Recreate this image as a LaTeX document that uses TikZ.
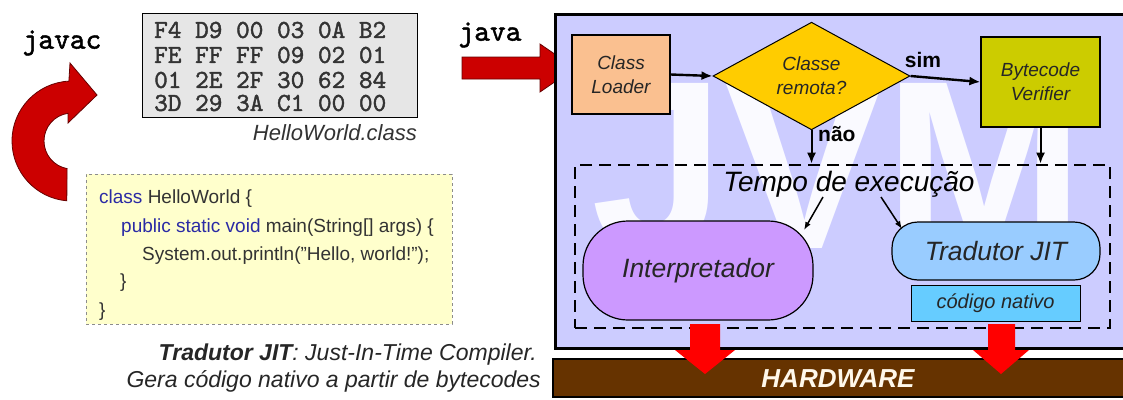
\documentclass[tikz,border=0pt]{standalone}
\usepackage{fontspec}
\setmainfont{Liberation Sans}
\newfontfamily\hexfont{lmmono10-regular.otf}[FakeBold=1.6]
\usetikzlibrary{shapes.geometric,arrows.meta}
\definecolor{jvmbg}{RGB}{204,204,255}
\definecolor{loaderc}{RGB}{250,192,144}
\definecolor{diamc}{RGB}{255,204,0}
\definecolor{verc}{RGB}{204,204,0}
\definecolor{interc}{RGB}{204,153,255}
\definecolor{jitc}{RGB}{153,204,255}
\definecolor{natc}{RGB}{102,204,255}
\definecolor{hwc}{RGB}{102,51,0}
\definecolor{darkred}{RGB}{204,0,0}
\definecolor{hexc}{RGB}{230,230,230}
\definecolor{codebg}{RGB}{255,255,204}
\definecolor{kwc}{RGB}{42,42,165}
\definecolor{codetxt}{RGB}{51,51,51}
\newcommand\myfs[2]{\fontsize{#1}{#2}\selectfont}
\newcommand\kw[1]{\textcolor{kwc}{#1}}
\begin{document}
\begin{tikzpicture}[x=1pt,y=-1pt,
  every node/.style={inner sep=0pt},
  box/.style={draw=black, line width=1.2pt, align=center, font=\myfs{19}{24}\itshape, text=black!85},
  flow/.style={-{Latex[length=11pt,width=9pt]}, line width=2.4pt},
  thin arrow/.style={-{Latex[length=8pt,width=6pt]}, line width=1.5pt},
  code/.style={font=\myfs{19}{24}, text=codetxt, anchor=west},
  hexrow/.style={font=\myfs{26}{24}\hexfont, text=black!80, anchor=west},
  redarrow/.style={fill=darkred, draw=black!60!red, line width=0.8pt}
]
\useasboundingbox (0,0) rectangle (1123,399);
\clip (0,0) rectangle (1123,399);
\fill[white] (0,0) rectangle (1123,399);

% ---------- left part ----------
\node[font=\myfs{30}{30}\hexfont] (javac) at (62,43) {javac};
\node[draw=black, line width=1pt, fill=hexc, minimum width=275pt, minimum height=104pt] (hexbox) at (279.5,65) {};
\node[hexrow] (h1) at (154,30) {F4 D9 00 03 0A B2};
\node[hexrow] (h2) at (154,55) {FE FF FF 09 02 01};
\node[hexrow] (h3) at (154,80) {01 2E 2F 30 62 84};
\node[hexrow] (h4) at (154,103) {3D 29 3A C1 00 00};
\node[font=\myfs{22}{24}\itshape, text=black!80, anchor=east] (hwclass) at (417,133) {HelloWorld.class};

\node[draw=black!45, dashed, line width=0.8pt, fill=codebg, minimum width=366pt, minimum height=150pt] (codebox) at (269,249) {};
\node[code] (c1) at (99,199) {\kw{class} HelloWorld \{};
\node[code] (c2) at (121,228) {\kw{public static void} main(String[] args) \{};
\node[code] (c3) at (142,256) {System.out.println("Hello, world!");};
\node[code] (c4) at (120,283) {\}};
\node[code] (c5) at (99,312) {\}};

% curved javac arrow (C shape)
\path[redarrow] (68.9,81.1)
  .. controls (37.0,82.8) and (12,109.1) .. (12,141)
  .. controls (12,172.1) and (35.8,198.1) .. (66.8,200.8)
  -- (67.1,168.6)
  .. controls (53.8,166.2) and (44,154.6) .. (44,141)
  .. controls (44,127.0) and (54.3,115.2) .. (68.1,113.3)
  -- (68,123) -- (97,95) -- (70,63) -- cycle;

\node[font=\myfs{23}{26}\itshape, text=black!85, anchor=east] (cap1) at (537,355) {\textbf{Tradutor JIT}: Just-In-Time Compiler.};
\node[font=\myfs{23}{26}\itshape, text=black!85, anchor=east] (cap2) at (541,381) {Gera código nativo a partir de bytecodes};

% ---------- JVM ----------
\node[font=\myfs{30}{30}\hexfont] (java) at (490,35) {java};
\path[redarrow] (462,57) -- (540,57) -- (540,44) -- (575,68) -- (540,92) -- (540,79) -- (462,79) -- cycle;

\node[draw=black, line width=3pt, fill=jvmbg, minimum width=575pt, minimum height=334pt] (jvm) at (842.5,181) {};
\node[font=\myfs{240}{240}\bfseries, text=white, text opacity=0.9, anchor=base] (wm) at (838,248) {JVM};

\node[box, fill=loaderc, minimum width=98pt, minimum height=79pt] (loader) at (621,74.5) {Class\\Loader};
\node[box, diamond, fill=diamc, minimum width=197pt, minimum height=97pt, line width=1pt] (remota) at (811.5,76) {Classe\\remota?};
\node[box, fill=verc, minimum width=119pt, minimum height=90pt] (verifier) at (1040.5,82) {Bytecode\\Verifier};

\node[draw=black, dash pattern=on 12pt off 7pt, line width=2.6pt, minimum width=535pt, minimum height=163pt] (runtime) at (842.5,246.5) {};
\node[font=\myfs{28}{30}\itshape] (tempo) at (849,184) {Tempo de execução};

\node[box, fill=interc, rounded corners=45pt, minimum width=230pt, minimum height=99pt, font=\myfs{26.5}{28}\itshape] (interp) at (698,270.5) {Interpretador};
\node[box, fill=jitc, rounded corners=26pt, minimum width=208pt, minimum height=58pt, font=\myfs{26.5}{28}\itshape] (jit) at (996,251) {Tradutor JIT};
\node[box, fill=natc, minimum width=169pt, minimum height=36pt, line width=1pt, font=\myfs{20}{22}\itshape] (nativo) at (995.5,303) {código nativo};

\draw[flow] (loader.east) -- (remota.west);
\draw[flow] (remota.east) -- (verifier.west);
\node[font=\myfs{21}{22}\bfseries] (sim) at (923,60) {sim};
\draw[flow, line width=2pt] (remota.south) -- (remota.south |- runtime.north);
\node[font=\myfs{21}{22}\bfseries, anchor=west] (nao) at (818,134) {não};
\draw[flow, line width=2pt] (verifier.south) -- (verifier.south |- runtime.north);

\coordinate (t1s) at (823,197);
\coordinate (t1e) at (804,230);
\coordinate (t2s) at (881,197);
\coordinate (t2e) at (902,229);
\draw[thin arrow] (t1s) -- (t1e);
\draw[thin arrow] (t2s) -- (t2e);

% ---------- hardware ----------
\node[draw=black, line width=2pt, fill=hwc, minimum width=573pt, minimum height=38pt] (hw) at (839.5,378) {};
\node[font=\myfs{26}{28}\bfseries\itshape, text={rgb,255:red,255;green,248;blue,235}] (hwtxt) at (838,379) {HARDWARE};

\fill[red] (690,324) -- (720,324) -- (720,350) -- (735,350) -- (705,374) -- (675,350) -- (690,350) -- cycle;
\fill[red] (988,324) -- (1015,324) -- (1015,350) -- (1029,350) -- (1001,374) -- (973,350) -- (988,350) -- cycle;
\end{tikzpicture}
\end{document}
